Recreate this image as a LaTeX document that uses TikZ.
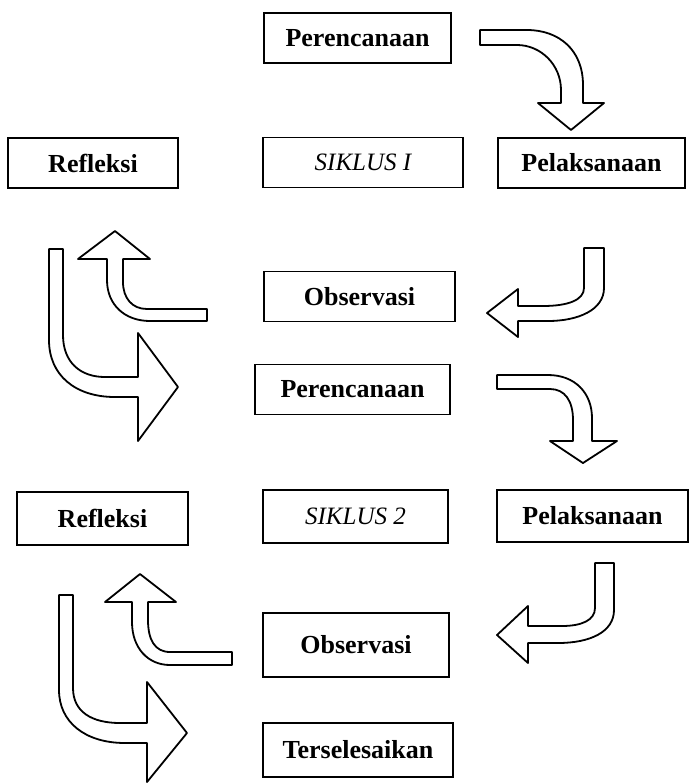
\documentclass[tikz,border=0pt]{standalone}
\usepackage{fontspec}
\setmainfont{Liberation Serif}
\tikzset{
  stage/.style={draw, rectangle, line width=0.7pt, inner sep=0pt,
    minimum height=25pt, font=\fontsize{13}{15}\selectfont\bfseries},
  siklus/.style={stage, font=\fontsize{12.5}{15}\selectfont\itshape},
  bent arrow/.style={draw, fill=white, line width=0.9pt, line join=round},
}
\begin{document}
\begin{tikzpicture}[x=0.5pt, y=-0.5pt]
  \useasboundingbox (0,0) rectangle (689,783);

  % Boxes, first cycle
  \node[stage, minimum width=93.5pt] (per1) at (357.5,38) {Perencanaan};
  \node[stage, minimum width=85pt] (ref1) at (93,163) {Refleksi};
  \node[siklus, minimum width=100pt] (sik1) at (363,162.5) {SIKLUS I};
  \node[stage, minimum width=93.5pt] (pel1) at (591.5,163) {Pelaksanaan};
  \node[stage, minimum width=95.5pt] (obs1) at (359.5,296.5) {Observasi};

  % Boxes, second cycle
  \node[stage, minimum width=97.5pt] (per2) at (352.5,389.5) {Perencanaan};
  \node[stage, minimum width=85.5pt, minimum height=26.5pt] (ref2) at (102.5,518.5) {Refleksi};
  \node[siklus, minimum width=92.5pt, minimum height=26.5pt] (sik2) at (355.5,516.5) {SIKLUS 2};
  \node[stage, minimum width=95.5pt, minimum height=26pt] (pel2) at (592.5,516) {Pelaksanaan};
  \node[stage, minimum width=93pt, minimum height=32pt] (obs2) at (356,645) {Observasi};
  \node[stage, minimum width=95pt, minimum height=27pt] (done) at (358,750) {Terselesaikan};

  % Block arrows, first cycle
  \draw[bent arrow] (480,30) -- (527,30) .. controls (559,30) and (583,50) .. (583,85)
    -- (583,103) -- (604,103) -- (571,130) -- (538,103) -- (561,103) -- (561,90)
    .. controls (561,65) and (541,45) .. (517,45) -- (480,45) -- cycle;
  \draw[bent arrow] (584,248) -- (604,248) -- (604,288) .. controls (604,310) and (578,321) .. (548,321)
    -- (518,321) -- (518,337) -- (487,313) -- (518,289) -- (518,306) -- (543,306)
    .. controls (568,306) and (584,300) .. (584,288) -- cycle;
  \draw[bent arrow] (207,309) -- (207,321) -- (150,321) .. controls (125,321) and (107,305) .. (107,280)
    -- (107,259) -- (78,259) -- (115,231) -- (150,259) -- (123,259) -- (123,282)
    .. controls (123,298) and (132,309) .. (147,309) -- cycle;
  \draw[bent arrow] (49,249) -- (63,249) -- (63,335) .. controls (63,362) and (80,377) .. (105,377)
    -- (138,377) -- (138,333) -- (178,387) -- (138,441) -- (138,397) -- (115,397)
    .. controls (75,397) and (49,375) .. (49,340) -- cycle;

  % Block arrows, second cycle
  \draw[bent arrow] (497,375) -- (548,375) .. controls (575,375) and (592,393) .. (592,418)
    -- (592,441) -- (617,441) -- (583,463) -- (550,441) -- (573,441) -- (573,420)
    .. controls (573,401) and (565,389) .. (550,389) -- (497,389) -- cycle;
  \draw[bent arrow] (595,563) -- (614,563) -- (614,610) .. controls (614,632) and (590,643) .. (558,643)
    -- (528,643) -- (528,663) -- (497,635) -- (528,606) -- (528,626) -- (562,626)
    .. controls (582,626) and (595,620) .. (595,608) -- cycle;
  \draw[bent arrow] (232,652) -- (232,665) -- (170,665) .. controls (148,665) and (132,648) .. (132,622)
    -- (132,602) -- (105,602) -- (140,574) -- (176,602) -- (148,602) -- (148,620)
    .. controls (148,640) and (155,652) .. (170,652) -- cycle;
  \draw[bent arrow] (59,595) -- (73,595) -- (73,688) .. controls (73,712) and (92,723) .. (120,723)
    -- (147,723) -- (147,682) -- (187,733) -- (147,782) -- (147,743) -- (125,743)
    .. controls (85,743) and (59,722) .. (59,690) -- cycle;
\end{tikzpicture}
\end{document}
